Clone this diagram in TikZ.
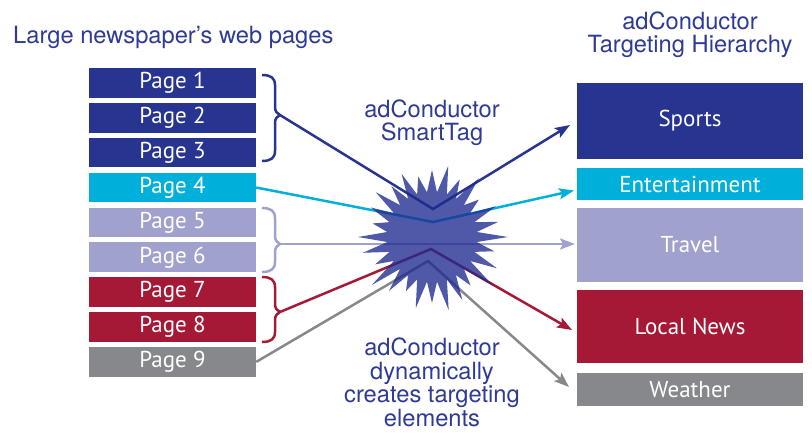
\documentclass[tikz,border=0pt]{standalone}
\usepackage{fontspec}
\usetikzlibrary{arrows.meta}
\newfontfamily\heros{TeX Gyre Heros}
\newfontfamily\boxfont{PT Sans}
\definecolor{navy}{RGB}{39,53,145}
\definecolor{cyanc}{RGB}{0,176,219}
\definecolor{lav}{RGB}{161,161,206}
\definecolor{crim}{RGB}{166,25,54}
\definecolor{grayc}{RGB}{135,136,140}
\definecolor{txtblue}{RGB}{46,58,150}
\definecolor{starc}{RGB}{30,42,142}
\newcommand\rightbrace[4]{%
  \draw[#1, line width=2.5pt, line join=round]
    (262,#2) .. controls (271,#2) and (275,#2+3) .. (275,#2+10) -- (275,#3-8)
    .. controls (275,#3-4) and (277,#3-1) .. (280,#3)
    .. controls (277,#3+1) and (275,#3+4) .. (275,#3+8) -- (275,#4-10)
    .. controls (275,#4-3) and (271,#4) .. (262,#4);}
\begin{document}
\begin{tikzpicture}[x=1pt,y=-1pt,
  pagebox/.style={fill=#1, minimum width=167pt, minimum height=29.7pt, inner sep=0pt,
    text=white, font=\boxfont\fontsize{23}{23}\selectfont},
  catbox/.style={fill=#1, minimum width=226pt, inner sep=0pt,
    text=white, font=\boxfont\fontsize{23}{23}\selectfont},
  titletext/.style={text=txtblue, font=\heros\fontsize{23.7}{23.5}\selectfont, inner sep=0pt, align=center},
  link/.style={draw=#1, line width=2.5pt, line join=miter},
  arr/.style={-{Stealth[length=15pt,width=11pt,inset=3pt]}}
]
\useasboundingbox (0,0) rectangle (812,432);

% left page boxes
\node[pagebox=navy]  (p1) at (172.5,82.9)  {Page 1};
\node[pagebox=navy]  (p2) at (172.5,117.8) {Page 2};
\node[pagebox=navy]  (p3) at (172.5,152.6) {Page 3};
\node[pagebox=cyanc] (p4) at (172.5,187.5) {Page 4};
\node[pagebox=lav]   (p5) at (172.5,222.4) {Page 5};
\node[pagebox=lav]   (p6) at (172.5,257.3) {Page 6};
\node[pagebox=crim]  (p7) at (172.5,292.2) {Page 7};
\node[pagebox=crim]  (p8) at (172.5,327.0) {Page 8};
\node[pagebox=grayc] (p9) at (172.5,361.9) {Page 9};

% right category boxes
\node[catbox=navy,  minimum height=76pt] (sports) at (690,121)   {Sports};
\node[catbox=cyanc, minimum height=32pt] (ent)    at (690,184)   {Entertainment};
\node[catbox=lav,   minimum height=74pt] (travel) at (690,245)   {Travel};
\node[catbox=crim,  minimum height=73pt] (local)  at (690,326.5) {Local News};
\node[catbox=grayc, minimum height=33pt] (weather) at (690,389.5) {Weather};

% titles
\node[titletext, anchor=base west] (ltitle) at (13,43) {Large newspaper’s web pages};
\node[titletext] (rtitle) at (690,34.6) {adConductor\\Targeting Hierarchy};
\node[titletext] (smart) at (432,122.6) {adConductor\\SmartTag};
\node[titletext] (dyn) at (432,382.5) {adConductor\\dynamically\\creates targeting\\elements};

% braces
\rightbrace{navy}{75}{115}{161}
\rightbrace{lav}{208}{244}{272}
\rightbrace{crim}{277}{312}{342}
\coordinate (b1) at (280,115);
\coordinate (b2) at (280,244);
\coordinate (b3) at (280,312);

% hub points
\coordinate (v1) at (433,209);
\coordinate (v2) at (433,222);
\coordinate (v4) at (431,249);
\coordinate (v5) at (428,261);
% arrow tips
\coordinate (t1) at (570,125);
\coordinate (t2) at (574,190.5);
\coordinate (t3) at (575,244);
\coordinate (t4) at (572,330);
\coordinate (t5) at (569,387);

\draw[link=navy, arr] (b1) -- (v1) -- (t1);
\draw[link=cyanc, arr] (p4.east) -- (v2) -- (t2);
\draw[link=lav, arr] (b2) -- (t3);
\draw[link=crim, arr] (b3) -- (v4) -- (t4);
\draw[link=grayc, arr] (p9.east) -- (v5) -- (t5);

% star burst
\fill[starc, opacity=0.78, shift={(432,237)}] (-6.43:45)
  \foreach \r [count=\i from 0] in {76,64,72,78,62,70,75,66,73,60,69,77,63,71,74,61,68,72,65,70,62,67,73,64,75,60,71,68}
  { -- ({\i*360/28}:\r) -- ({\i*360/28+180/28}:45) } -- cycle;
\end{tikzpicture}
\end{document}
